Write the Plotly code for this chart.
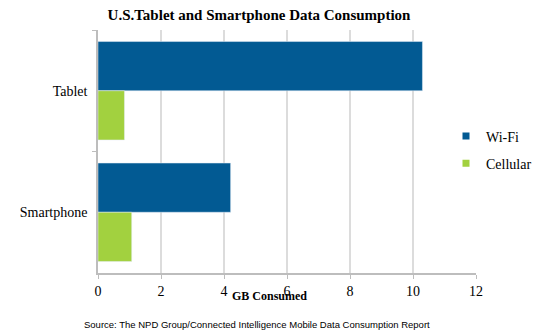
import plotly.graph_objects as go

categories = ["Tablet", "Smartphone"]
wifi = [10.3, 4.21]
cellular = [0.84, 1.07]
x_ticks = [0, 2, 4, 6, 8, 10, 12]
series_names = ["Wi-Fi", "Cellular"]
series_colors = ["#025A93", "#A2D13F"]

serif = "Liberation Serif, DejaVu Serif, serif"

fig = go.Figure()
for name, vals, col in zip(series_names, [wifi, cellular], series_colors):
    fig.add_trace(go.Bar(y=categories, x=vals, name=name, orientation="h",
                         marker=dict(color=col), showlegend=False))
# legend entries with small square symbols
for name, col in zip(series_names, series_colors):
    fig.add_trace(go.Scatter(x=[None], y=[None], mode="markers", name=name,
                             legendgroup=name,
                             marker=dict(symbol="square", size=7, color=col)))

fig.update_layout(
    width=557, height=336,
    margin=dict(l=98, r=81, t=30, b=63, autoexpand=False),
    paper_bgcolor="white", plot_bgcolor="white",
    barmode="group", bargap=0.19, bargroupgap=0,
    font=dict(family=serif, size=13, color="black"),
    title=dict(text="<b>U.S.Tablet and Smartphone Data Consumption</b>",
               x=259 / 557, xanchor="center", y=1 - 15 / 336, yanchor="middle",
               font=dict(family=serif, size=15, color="black")),
    legend=dict(xref="container", yref="container",
                x=446 / 557, xanchor="left", y=1 - 150 / 336, yanchor="middle",
                font=dict(family=serif, size=14), tracegroupgap=6,
                itemwidth=30, bgcolor="rgba(0,0,0,0)"),
    xaxis=dict(range=[0, 12], tickvals=x_ticks, showgrid=True,
               gridcolor="#DCDCDC", gridwidth=1.5, showline=True,
               linecolor="#BDBDBD", linewidth=1.5, ticks="outside",
               ticklen=4, tickcolor="#BDBDBD", zeroline=False,
               tickfont=dict(family=serif, size=14)),
    yaxis=dict(autorange="reversed", showline=True, linecolor="#BDBDBD",
               linewidth=1.5, ticks="outside", tickson="boundaries",
               ticklen=4, tickcolor="#BDBDBD", showgrid=False,
               ticklabelstandoff=6,
               tickfont=dict(family=serif, size=14)),
    annotations=[
        dict(text="<b>GB Consumed</b>", xref="paper", yref="paper",
             x=(269 - 98) / 378, y=-(296 - 273) / 243, xanchor="center",
             yanchor="middle", showarrow=False,
             font=dict(family=serif, size=12, color="black")),
        dict(text="Source: The NPD Group/Connected Intelligence Mobile Data Consumption Report",
             xref="paper", yref="paper", x=(257 - 98) / 378,
             y=-(324 - 273) / 243, xanchor="center", yanchor="middle",
             showarrow=False,
             font=dict(family="Liberation Sans, Arial, sans-serif", size=9.5,
                       color="black")),
    ],
)

fig.write_html("out.html")
